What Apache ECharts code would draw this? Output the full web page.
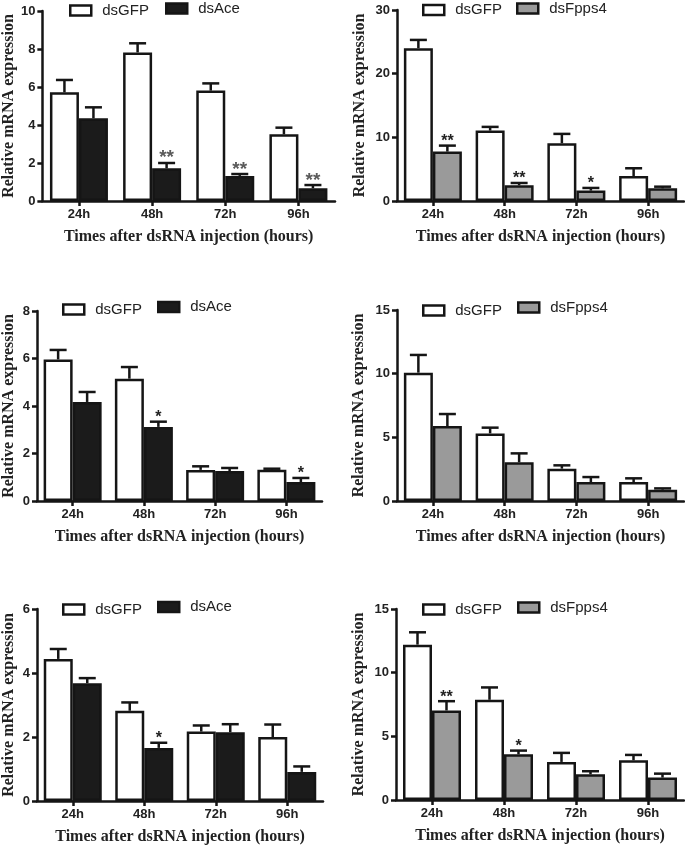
<!DOCTYPE html>
<html>
<head>
<meta charset="utf-8">
<script src="https://cdn.jsdelivr.net/npm/echarts@6/dist/echarts.min.js"></script>
<style>
html,body{margin:0;padding:0;background:#fff;}
#c{width:685px;height:848px;}
</style>
</head>
<body>
<div id="c"></div>
<script>
const categories = ['24h', '48h', '72h', '96h'];
const xTitle = 'Times after dsRNA injection (hours)';
const yTitle = 'Relative mRNA expression';

// Panel 1 (top-left)
const p1GFP = [5.72, 7.82, 5.81, 3.51];
const p1GFPErr = [0.65, 0.48, 0.38, 0.35];
const p1Ace = [4.35, 1.72, 1.32, 0.67];
const p1AceErr = [0.58, 0.28, 0.10, 0.17];
const p1Stars = ['', '**', '**', '**'];
const p1Ticks = [0, 10, 2];

// Panel 2 (top-right)
const p2GFP = [24.0, 11.06, 9.07, 3.93];
const p2GFPErr = [1.3, 0.58, 1.47, 1.21];
const p2Fpps = [7.76, 2.46, 1.63, 1.99];
const p2FppsErr = [0.94, 0.37, 0.42, 0.26];
const p2Stars = ['**', '**', '*', ''];
const p2Ticks = [0, 30, 10];

// Panel 3 (middle-left)
const p3GFP = [5.96, 5.15, 1.31, 1.32];
const p3GFPErr = [0.40, 0.49, 0.15, 0.04];
const p3Ace = [4.17, 3.12, 1.26, 0.80];
const p3AceErr = [0.42, 0.22, 0.13, 0.17];
const p3Stars = ['', '*', '', '*'];
const p3Ticks = [0, 8, 2];

// Panel 4 (middle-right)
const p4GFP = [10.08, 5.31, 2.54, 1.49];
const p4GFPErr = [1.39, 0.45, 0.26, 0.29];
const p4Fpps = [5.89, 3.04, 1.49, 0.89];
const p4FppsErr = [0.94, 0.70, 0.39, 0.10];
const p4Stars = ['', '', '', ''];
const p4Ticks = [0, 15, 5];

// Panel 5 (bottom-left)
const p5GFP = [4.44, 2.82, 2.17, 2.00];
const p5GFPErr = [0.31, 0.26, 0.19, 0.39];
const p5Ace = [3.68, 1.66, 2.15, 0.91];
const p5AceErr = [0.16, 0.16, 0.25, 0.17];
const p5Stars = ['', '*', '', ''];
const p5Ticks = [0, 6, 2];

// Panel 6 (bottom-right)
const p6GFP = [12.2, 7.87, 2.99, 3.12];
const p6GFPErr = [0.97, 0.97, 0.71, 0.42];
const p6Fpps = [7.03, 3.59, 2.02, 1.76];
const p6FppsErr = [0.73, 0.29, 0.24, 0.31];
const p6Stars = ['**', '*', '', ''];
const p6Ticks = [0, 15, 5];

const SANS = 'Liberation Sans, Arial, sans-serif';
const SERIF = 'Liberation Serif, Times New Roman, serif';
const INK = '#151515';
const LW = 2.5;
const BAR_W = 29;
const COLORS = { dsGFP: '#ffffff', dsAce: '#1b1b1b', dsFpps4: '#9a9a9a' };

const panels = [
  { gfp: p1GFP, gfpErr: p1GFPErr, trt: p1Ace, trtErr: p1AceErr, stars: p1Stars, ticks: p1Ticks, trtName: 'dsAce',
    grid: { left: 42, top: 11, width: 293, height: 190 }, yGap: 24, starColor: '#5a5a5a', starSize: 19,
    leg: [[69, 11], [165, 9]], xTitle: true },
  { gfp: p2GFP, gfpErr: p2GFPErr, trt: p2Fpps, trtErr: p2FppsErr, stars: p2Stars, ticks: p2Ticks, trtName: 'dsFpps4',
    grid: { left: 397, top: 10, width: 287, height: 191 }, yGap: 29, starColor: '#222', starSize: 16,
    leg: [[422, 10.5], [516, 9]], xTitle: true },
  { gfp: p3GFP, gfpErr: p3GFPErr, trt: p3Ace, trtErr: p3AceErr, stars: p3Stars, ticks: p3Ticks, trtName: 'dsAce',
    grid: { left: 36, top: 311, width: 286, height: 190 }, yGap: 20, starColor: '#222', starSize: 16,
    leg: [[62, 310], [157, 307.5]], xTitle: true },
  { gfp: p4GFP, gfpErr: p4GFPErr, trt: p4Fpps, trtErr: p4FppsErr, stars: p4Stars, ticks: p4Ticks, trtName: 'dsFpps4',
    grid: { left: 397, top: 310, width: 287, height: 191 }, yGap: 30, starColor: '#222', starSize: 16,
    leg: [[422, 311], [517, 308]], xTitle: true },
  { gfp: p5GFP, gfpErr: p5GFPErr, trt: p5Ace, trtErr: p5AceErr, stars: p5Stars, ticks: p5Ticks, trtName: 'dsAce',
    grid: { left: 36, top: 609, width: 287, height: 192 }, yGap: 20, starColor: '#222', starSize: 16,
    leg: [[62, 610], [157, 607.5]], xTitle: true },
  { gfp: p6GFP, gfpErr: p6GFPErr, trt: p6Fpps, trtErr: p6FppsErr, stars: p6Stars, ticks: p6Ticks, trtName: 'dsFpps4',
    grid: { left: 396, top: 609, width: 288, height: 191 }, yGap: 29, starColor: '#222', starSize: 16,
    leg: [[422, 610], [517, 608]], xTitle: true }
];

const grids = [], xAxes = [], yAxes = [], series = [], legends = [];

function errSeries(idx, means, errs, stars, offset, starColor, starSize) {
  return {
    type: 'custom',
    xAxisIndex: idx, yAxisIndex: idx,
    z: 5,
    silent: true,
    data: means.map((m, i) => [i, m, m + errs[i]]),
    encode: { x: 0, y: [1, 2] },
    renderItem: function (params, api) {
      const i = api.value(0);
      const base = api.coord([i, api.value(1)]);
      const top = api.coord([i, api.value(2)]);
      const x = base[0] + offset;
      const children = [
        { type: 'line', shape: { x1: x, y1: base[1], x2: x, y2: top[1] }, style: { stroke: INK, lineWidth: LW } },
        { type: 'line', shape: { x1: x - 8.5, y1: top[1], x2: x + 8.5, y2: top[1] }, style: { stroke: INK, lineWidth: LW } }
      ];
      const s = stars[params.dataIndex];
      if (s) {
        children.push({
          type: 'text',
          style: {
            text: s, x: x, y: top[1] + starSize * 0.25,
            align: 'center', verticalAlign: 'bottom',
            fill: starColor, font: 'bold ' + starSize + 'px ' + SANS
          }
        });
      }
      return { type: 'group', children: children };
    }
  };
}

panels.forEach((p, idx) => {
  grids.push(Object.assign({ containLabel: false }, p.grid));
  xAxes.push({
    type: 'category', gridIndex: idx, data: categories,
    axisLine: { show: true, lineStyle: { color: INK, width: LW } },
    axisTick: { show: true, alignWithLabel: true, length: 5, lineStyle: { color: INK, width: LW } },
    axisLabel: { color: '#222', fontFamily: SANS, fontWeight: 'bold', fontSize: 13, margin: 7 },
    name: p.xTitle ? xTitle : '', nameLocation: 'middle', nameGap: 28,
    nameTextStyle: { color: '#222', fontFamily: SERIF, fontWeight: 'bold', fontSize: 16 }
  });
  yAxes.push({
    type: 'value', gridIndex: idx, min: p.ticks[0], max: p.ticks[1], interval: p.ticks[2],
    axisLine: { show: true, lineStyle: { color: INK, width: LW } },
    axisTick: { show: true, length: 5, lineStyle: { color: INK, width: LW } },
    splitLine: { show: false },
    axisLabel: { color: '#222', fontFamily: SANS, fontWeight: 'bold', fontSize: 13, margin: 7 },
    name: yTitle, nameLocation: 'middle', nameGap: p.yGap, nameRotate: 90,
    nameTextStyle: { color: '#222', fontFamily: SERIF, fontWeight: 'bold', fontSize: 16 }
  });
  series.push({
    type: 'bar', name: 'dsGFP', xAxisIndex: idx, yAxisIndex: idx, data: p.gfp,
    barWidth: BAR_W, barGap: '0%', silent: true,
    itemStyle: { color: COLORS.dsGFP, borderColor: INK, borderWidth: LW }
  });
  series.push({
    type: 'bar', name: p.trtName, xAxisIndex: idx, yAxisIndex: idx, data: p.trt,
    barWidth: BAR_W, barGap: '0%', silent: true,
    itemStyle: { color: COLORS[p.trtName], borderColor: INK, borderWidth: LW }
  });
  series.push(errSeries(idx, p.gfp, p.gfpErr, ['', '', '', ''], -BAR_W / 2, p.starColor, p.starSize));
  series.push(errSeries(idx, p.trt, p.trtErr, p.stars, BAR_W / 2, p.starColor, p.starSize));
  ['dsGFP', p.trtName].forEach((nm, k) => {
    legends.push({
      data: [nm], left: p.leg[k][0], top: p.leg[k][1] - 8, padding: 0,
      selectedMode: false, icon: 'rect', itemWidth: 21, itemHeight: 10,
      itemStyle: { borderColor: INK, borderWidth: LW },
      textStyle: { color: '#222', fontFamily: SANS, fontSize: 15, padding: [0, 0, 0, 6] }
    });
  });
});

const chart = echarts.init(document.getElementById('c'), null, { renderer: 'canvas' });
chart.setOption({
  backgroundColor: '#ffffff',
  animation: false,
  grid: grids,
  xAxis: xAxes,
  yAxis: yAxes,
  legend: legends,
  series: series
});
</script>
</body>
</html>
